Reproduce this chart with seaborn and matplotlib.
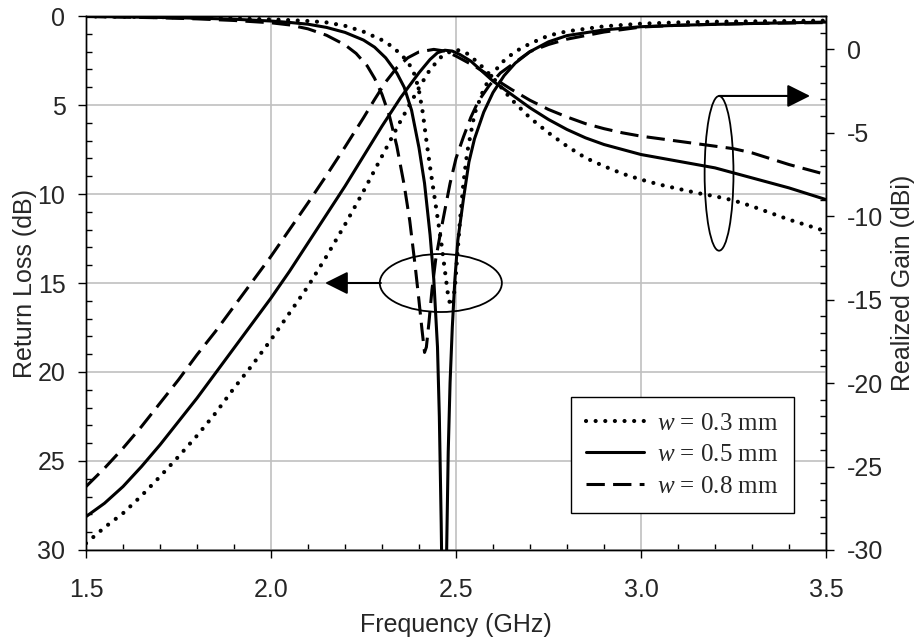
import numpy as np
import pandas as pd
import matplotlib
matplotlib.use("Agg")
import matplotlib.pyplot as plt
from matplotlib.patches import Ellipse
from matplotlib.ticker import MultipleLocator
import seaborn as sns

# return loss (dB)
rl_f_03 = [1.5, 1.6, 1.7, 1.8, 1.9, 2.0, 2.05, 2.1, 2.15, 2.2, 2.25, 2.3, 2.33, 2.36, 2.38,
           2.39, 2.40, 2.41, 2.42, 2.43, 2.44, 2.45, 2.46, 2.47, 2.478, 2.485, 2.492,
           2.498, 2.503, 2.51, 2.52, 2.53, 2.55, 2.575, 2.60, 2.63, 2.66, 2.70, 2.75,
           2.80, 2.9, 3.0, 3.1, 3.2, 3.3, 3.4, 3.5]
rl_v_03 = [0.02, 0.04, 0.06, 0.09, 0.13, 0.19, 0.23, 0.28, 0.36, 0.55, 0.88, 1.35, 1.75, 2.35, 2.9,
           3.4, 4.2, 5.4, 7.0, 8.5, 9.9, 11.3, 12.7, 14.3, 15.6, 16.3, 16.1,
           15.0, 13.6, 11.7, 9.4, 7.7, 5.5, 4.1, 3.2, 2.5, 2.0, 1.55, 1.1,
           0.86, 0.58, 0.43, 0.36, 0.32, 0.3, 0.28, 0.26]

rl_f_05 = [1.5, 1.6, 1.7, 1.8, 1.9, 2.0, 2.05, 2.1, 2.15, 2.2, 2.25, 2.28, 2.31, 2.34, 2.36,
           2.38, 2.40, 2.415, 2.43, 2.44, 2.45, 2.455, 2.46, 2.463, 2.468, 2.471, 2.474,
           2.479, 2.484, 2.49, 2.497, 2.505, 2.52, 2.535, 2.55, 2.575, 2.60, 2.63, 2.66,
           2.70, 2.75, 2.80, 2.9, 3.0, 3.1, 3.2, 3.3, 3.4, 3.5]
rl_v_05 = [0.02, 0.05, 0.08, 0.12, 0.18, 0.28, 0.36, 0.46, 0.64, 0.92, 1.35, 1.75, 2.35, 3.2, 4.0,
           5.3, 7.4, 9.4, 12.3, 14.8, 18.6, 22.5, 28.5, 33.0, 38.0, 36.0, 31.0,
           24.5, 20.6, 17.5, 14.8, 12.6, 10.3, 8.2, 6.9, 5.4, 4.3, 3.35, 2.65,
           2.0, 1.45, 1.1, 0.78, 0.6, 0.52, 0.47, 0.42, 0.38, 0.34]

rl_f_08 = [1.5, 1.6, 1.7, 1.8, 1.9, 2.0, 2.05, 2.1, 2.15, 2.2, 2.23, 2.26, 2.28, 2.3, 2.32,
           2.34, 2.36, 2.375, 2.39, 2.40, 2.408, 2.415, 2.42, 2.427, 2.435, 2.445, 2.457,
           2.47, 2.484, 2.5, 2.52, 2.54, 2.56, 2.59, 2.62, 2.66, 2.70, 2.75, 2.80, 2.9,
           3.0, 3.1, 3.2, 3.3, 3.4, 3.5]
rl_v_08 = [0.03, 0.06, 0.1, 0.16, 0.25, 0.38, 0.5, 0.72, 1.08, 1.62, 2.1, 2.8, 3.5, 4.4, 5.6,
           7.3, 9.5, 11.5, 14.1, 16.0, 17.6, 18.9, 18.6, 17.2, 15.4, 13.7, 12.3,
           10.9, 9.4, 8.0, 6.8, 5.7, 4.8, 3.9, 3.2, 2.6, 2.0, 1.6, 1.3, 0.9,
           0.62, 0.52, 0.46, 0.42, 0.39, 0.37]

# realized gain (dBi)
g_f_03 = [1.5, 1.55, 1.6, 1.65, 1.7, 1.75, 1.8, 1.85, 1.9, 1.95, 2.0, 2.05, 2.1, 2.15, 2.2,
          2.25, 2.3, 2.35, 2.4, 2.43, 2.46, 2.49, 2.51, 2.53, 2.56, 2.6, 2.65, 2.7, 2.75,
          2.8, 2.85, 2.9, 2.95, 3.0, 3.05, 3.1, 3.15, 3.2, 3.25, 3.3, 3.35, 3.4, 3.45, 3.5]
g_v_03 = [-29.6, -28.65, -27.8, -26.75, -25.6, -24.4, -23.15, -21.8, -20.3, -18.9, -17.4,
          -15.8, -14.2, -12.4, -10.5, -8.5, -6.4, -4.3, -2.3, -1.2, -0.45, -0.06, -0.05,
          -0.25, -0.8, -1.7, -3.0, -4.1, -5.0, -5.8, -6.5, -7.0, -7.45, -7.8, -8.1, -8.35,
          -8.6, -8.8, -9.05, -9.4, -9.8, -10.2, -10.55, -10.9]

g_f_05 = [1.5, 1.55, 1.6, 1.65, 1.7, 1.75, 1.8, 1.85, 1.9, 1.95, 2.0, 2.05, 2.1, 2.15, 2.2,
          2.25, 2.3, 2.35, 2.4, 2.43, 2.45, 2.47, 2.49, 2.51, 2.54, 2.57, 2.6, 2.65, 2.7,
          2.75, 2.8, 2.85, 2.9, 2.95, 3.0, 3.1, 3.2, 3.3, 3.4, 3.5]
g_v_05 = [-28.0, -27.2, -26.2, -25.0, -23.7, -22.3, -20.9, -19.4, -17.9, -16.4, -14.9, -13.3,
          -11.6, -9.9, -8.2, -6.4, -4.6, -2.9, -1.4, -0.6, -0.2, -0.05, -0.1, -0.3, -0.7,
          -1.3, -1.9, -2.7, -3.5, -4.2, -4.8, -5.3, -5.7, -6.0, -6.3, -6.7, -7.1, -7.7,
          -8.3, -9.0]

g_f_08 = [1.5, 1.55, 1.6, 1.65, 1.7, 1.75, 1.8, 1.85, 1.9, 1.95, 2.0, 2.05, 2.1, 2.15, 2.2,
          2.25, 2.28, 2.31, 2.34, 2.37, 2.4, 2.44, 2.47, 2.5, 2.55, 2.6, 2.65, 2.7, 2.75,
          2.8, 2.85, 2.9, 2.95, 3.0, 3.05, 3.1, 3.15, 3.2, 3.25, 3.3, 3.35, 3.4, 3.45, 3.5]
g_v_08 = [-26.2, -25.1, -23.9, -22.6, -21.2, -19.8, -18.3, -16.9, -15.4, -13.9, -12.4, -10.8,
          -9.2, -7.55, -5.85, -4.1, -3.0, -1.95, -1.1, -0.5, -0.15, 0.0, -0.1, -0.4, -1.0,
          -1.7, -2.4, -3.05, -3.6, -4.05, -4.45, -4.75, -5.0, -5.2, -5.35, -5.5, -5.65,
          -5.8, -5.95, -6.2, -6.55, -6.9, -7.2, -7.5]

widths = ["0.3", "0.5", "0.8"]
labels = [r"$w$ = 0.3 mm", r"$w$ = 0.5 mm", r"$w$ = 0.8 mm"]


def long_frame(series, col):
    parts = []
    for w, (f, v) in zip(widths, series):
        parts.append(pd.DataFrame({"freq": f, col: v, "w": w}))
    return pd.concat(parts, ignore_index=True)


rl_df = long_frame([(rl_f_03, rl_v_03), (rl_f_05, rl_v_05), (rl_f_08, rl_v_08)], "rl")
gain_df = long_frame([(g_f_03, g_v_03), (g_f_05, g_v_05), (g_f_08, g_v_08)], "gain")

sns.set_theme(style="white")
plt.rcParams["font.family"] = ["Liberation Sans", "DejaVu Sans"]
plt.rcParams["axes.unicode_minus"] = False
plt.rcParams["mathtext.fontset"] = "custom"
plt.rcParams["mathtext.it"] = "Liberation Serif:italic"
plt.rcParams["mathtext.rm"] = "Liberation Serif"

FS = 18
dash_map = {"0.3": (0.01, 2.3), "0.5": "", "0.8": (6, 2.7)}

fig, ax = plt.subplots(figsize=(9.15, 6.41), dpi=100)
fig.subplots_adjust(left=0.094, right=0.9027, top=0.975, bottom=0.142)
ax2 = ax.twinx()

sns.lineplot(data=rl_df, x="freq", y="rl", style="w", style_order=widths, dashes=dash_map,
             color="black", linewidth=2.2, estimator=None, legend=False, ax=ax)
sns.lineplot(data=gain_df, x="freq", y="gain", style="w", style_order=widths, dashes=dash_map,
             color="black", linewidth=2.2, estimator=None, legend=False, ax=ax2)

# dotted series gets round caps and a heavier width so the dashes become fat dots
for a in (ax, ax2):
    lines = a.get_lines()
    lines[0].set_dash_capstyle("round")
    lines[0].set_linewidth(3.0)
    for ln in lines[1:]:
        ln.set_dash_capstyle("butt")

ax.set_xlim(1.5, 3.5)
ax.set_ylim(30, 0)
ax2.set_ylim(-30, 2)
ax.xaxis.set_major_locator(MultipleLocator(0.5))
ax.xaxis.set_minor_locator(MultipleLocator(0.1))
ax.yaxis.set_major_locator(MultipleLocator(5))
ax.yaxis.set_minor_locator(MultipleLocator(1))
ax2.yaxis.set_major_locator(MultipleLocator(5))
ax2.yaxis.set_minor_locator(MultipleLocator(1))
ax.set_xticks([1.5, 2.0, 2.5, 3.0, 3.5])
ax.set_xticklabels(["1.5", "2.0", "2.5", "3.0", "3.5"])

ax.grid(True, which="major", color="#c0c0c0", linewidth=1.2)
for a in (ax, ax2):
    for s in a.spines.values():
        s.set_color("black")
        s.set_linewidth(1.0)

ax.tick_params(axis="y", which="major", direction="out", length=5.8, width=1, color="black",
               labelsize=FS, pad=9, left=True)
ax.tick_params(axis="x", which="major", direction="out", length=5.8, width=1, color="black",
               labelsize=FS, pad=14.5, bottom=True)
ax.tick_params(which="minor", direction="in", length=4.3, width=1, color="black",
               left=True, bottom=True)
ax2.tick_params(which="major", direction="out", length=5.8, width=1, color="black",
                labelsize=FS, pad=9, right=True)
ax2.tick_params(which="minor", direction="in", length=4.3, width=1, color="black", right=True)

ax.set_xlabel("Frequency (GHz)", fontsize=FS, labelpad=8)
ax.set_ylabel("Return Loss (dB)", fontsize=FS, labelpad=0)
ax2.set_ylabel("Realized Gain (dBi)", fontsize=FS, labelpad=6)

# ellipse + arrow marking the return loss group
ax.add_patch(Ellipse((2.459, 15.0), 0.33, 3.26, fill=False, edgecolor="black", linewidth=1.3))
ax.annotate("", xy=(2.146, 15.0), xytext=(2.297, 15.0),
            arrowprops=dict(arrowstyle="-|>,head_length=1.4,head_width=0.7", color="black",
                            linewidth=1.5, shrinkA=0, shrinkB=0, mutation_scale=10))
# ellipse + arrow marking the gain group
ax.add_patch(Ellipse((3.211, 8.84), 0.078, 8.69, fill=False, edgecolor="black", linewidth=1.3))
ax.annotate("", xy=(3.457, 4.49), xytext=(3.211, 4.49),
            arrowprops=dict(arrowstyle="-|>,head_length=1.4,head_width=0.7", color="black",
                            linewidth=1.5, shrinkA=0, shrinkB=0, mutation_scale=10))

leg = ax2.legend(ax.get_lines()[:3], labels, loc="lower right", bbox_to_anchor=(0.957, 0.069),
                 borderaxespad=0, frameon=True, fancybox=False, framealpha=1, edgecolor="black",
                 prop={"family": "Liberation Serif", "size": FS}, handlelength=2.3,
                 handletextpad=0.55, labelspacing=0.36, borderpad=0.62)
leg.get_frame().set_linewidth(1.0)

plt.savefig("out.png", dpi=100)
